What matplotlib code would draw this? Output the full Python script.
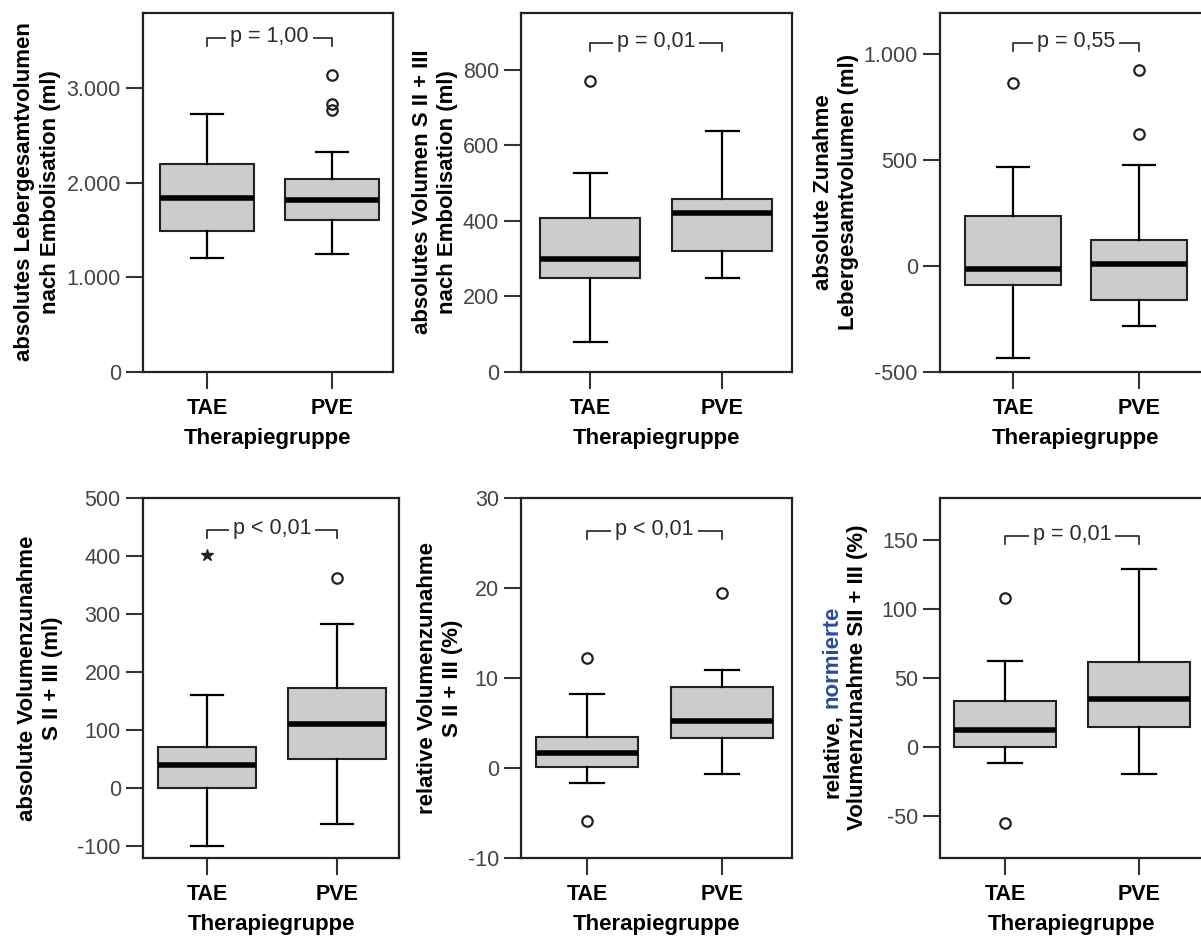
import numpy as np
import matplotlib
matplotlib.use("Agg")
import matplotlib.pyplot as plt
from matplotlib.ticker import FuncFormatter

plt.rcParams['font.family'] = ['Liberation Sans', 'DejaVu Sans']
plt.rcParams['font.size'] = 15

# Gruppen
gruppen = ["TAE", "PVE"]

# 1) absolutes Lebergesamtvolumen nach Embolisation (ml)
p1_q1 = [1492, 1605]
p1_med = [1840, 1816]
p1_q3 = [2192, 2035]
p1_lo = [1200, 1246]
p1_hi = [2720, 2326]
p1_fl = [[], [3136, 2830, 2770]]

# 2) absolutes Volumen S II + III nach Embolisation (ml)
p2_q1 = [249, 320]
p2_med = [299, 421]
p2_q3 = [408, 459]
p2_lo = [79, 250]
p2_hi = [527, 639]
p2_fl = [[771], []]

# 3) absolute Zunahme Lebergesamtvolumen (ml)
p3_q1 = [-91, -162]
p3_med = [-12, 8]
p3_q3 = [236, 125]
p3_lo = [-434, -283]
p3_hi = [467, 477]
p3_fl = [[865], [927, 625]]

# 4) absolute Volumenzunahme S II + III (ml)
p4_q1 = [0, 51]
p4_med = [40, 111]
p4_q3 = [71, 172]
p4_lo = [-100, -61]
p4_hi = [161, 283]
p4_fl = [[], [363]]
p4_extrem = [402]  # * Extremwert TAE

# 5) relative Volumenzunahme S II + III (%)
p5_q1 = [0.1, 3.3]
p5_med = [1.7, 5.2]
p5_q3 = [3.4, 9.0]
p5_lo = [-1.7, -0.7]
p5_hi = [8.2, 10.9]
p5_fl = [[12.2, -5.9], [19.4]]

# 6) relative, normierte Volumenzunahme SII + III (%)
p6_q1 = [0, 14.5]
p6_med = [12.6, 35]
p6_q3 = [33.7, 61.7]
p6_lo = [-11.3, -19.2]
p6_hi = [62, 128.4]
p6_fl = [[107.7, -55], []]

p_texte = ["p = 1,00", "p = 0,01", "p = 0,55", "p < 0,01", "p < 0,01", "p = 0,01"]

ylabels = ["absolutes Lebergesamtvolumen\nnach Embolisation (ml)",
           "absolutes Volumen S II + III\nnach Embolisation (ml)",
           "absolute Zunahme\nLebergesamtvolumen (ml)",
           "absolute Volumenzunahme\nS II + III (ml)",
           "relative Volumenzunahme\nS II + III (%)",
           None]

yticks = [[0, 1000, 2000, 3000], [0, 200, 400, 600, 800], [-500, 0, 500, 1000],
          [-100, 0, 100, 200, 300, 400, 500], [-10, 0, 10, 20, 30], [-50, 0, 50, 100, 150]]
ylims = [(0, 3790), (0, 950), (-500, 1195), (-120, 500), (-10, 30), (-80, 180)]

# Layout in Pixeln (links, rechts, oben, unten)
W, H = 1201, 938
boxes_px = [(143, 393, 13, 372), (521, 792, 13, 372), (940, 1212, 13, 372),
            (143, 399, 498, 858), (521, 792, 498, 858), (940, 1204, 498, 858)]
xlims = [(0.488, 2.488), (0.477, 2.53), (0.42, 2.58),
         (0.508, 2.477), (0.511, 2.519), (0.515, 2.485)]
bracket_y = [0.930, 0.917, 0.916, 0.912, 0.908, 0.894]
ylabel_pos = [(37.5, 192), (435, 192), (836, 192), (40, 678), (440, 678), None]

daten = [(p1_q1, p1_med, p1_q3, p1_lo, p1_hi, p1_fl),
         (p2_q1, p2_med, p2_q3, p2_lo, p2_hi, p2_fl),
         (p3_q1, p3_med, p3_q3, p3_lo, p3_hi, p3_fl),
         (p4_q1, p4_med, p4_q3, p4_lo, p4_hi, p4_fl),
         (p5_q1, p5_med, p5_q3, p5_lo, p5_hi, p5_fl),
         (p6_q1, p6_med, p6_q3, p6_lo, p6_hi, p6_fl)]

fig = plt.figure(figsize=(W / 100, H / 100), dpi=100)

def de_fmt(v, pos):
    return f"{v:,.0f}".replace(",", ".")

for i in range(6):
    l, r, t, b = boxes_px[i]
    ax = fig.add_axes([l / W, 1 - b / H, (r - l) / W, (b - t) / H])
    q1, med, q3, lo, hi, fl = daten[i]
    stats = [dict(med=med[k], q1=q1[k], q3=q3[k], whislo=lo[k], whishi=hi[k], fliers=fl[k])
             for k in range(2)]
    ax.bxp(stats, positions=[1, 2], widths=0.76, capwidths=0.25, patch_artist=True,
           boxprops=dict(facecolor="#cccccc", edgecolor="#222222", linewidth=1.5),
           medianprops=dict(color="black", linewidth=4, solid_capstyle="butt"),
           whiskerprops=dict(color="black", linewidth=1.6),
           capprops=dict(color="black", linewidth=1.6),
           flierprops=dict(marker="o", markerfacecolor="none", markeredgecolor="#222222",
                           markersize=7.5, markeredgewidth=1.6))
    if i == 3:
        ax.plot([1] * len(p4_extrem), p4_extrem, linestyle="none", marker="*",
                color="#222222", markersize=9)

    ax.set_xlim(*xlims[i])
    ax.set_ylim(*ylims[i])
    ax.set_yticks(yticks[i])
    ax.yaxis.set_major_formatter(FuncFormatter(de_fmt))
    ax.set_xticks([1, 2])
    ax.set_xticklabels(gruppen, fontweight="bold", fontsize=15.5, color="black")
    ax.tick_params(axis="both", length=12, width=1.5, color="#333333", direction="out")
    ax.tick_params(axis="y", labelcolor="#444444", labelsize=15.5, pad=4)
    ax.tick_params(axis="x", pad=7)
    ax.set_xlabel("Therapiegruppe", fontweight="bold", fontsize=16, labelpad=6)
    for sp in ax.spines.values():
        sp.set_linewidth(1.6)
        sp.set_color("#222222")

    # p-Wert Klammer
    tr = ax.get_xaxis_transform()
    yb = bracket_y[i]
    ax.plot([1, 1, 2, 2], [yb - 0.022, yb, yb, yb - 0.022], transform=tr,
            color="#222222", linewidth=1.2, clip_on=False, zorder=3)
    ax.text(1.5, yb + 0.004, p_texte[i], transform=tr, ha="center", va="center",
            fontsize=15.5, color="#2b2b2b", zorder=4,
            bbox=dict(facecolor="white", edgecolor="none", pad=3))

    if ylabels[i] is not None:
        x, y = ylabel_pos[i]
        fig.text(x / W, 1 - y / H, ylabels[i], rotation=90, ha="center", va="center",
                 multialignment="center", fontweight="bold", fontsize=16, linespacing=1.3)

# Panel 6: Beschriftung mit farbigem Wort
t1 = fig.text(832 / W, 1 - 798 / H, "relative,", rotation=90, ha="center", va="bottom",
              fontweight="bold", fontsize=16)
fig.canvas.draw()
bb = t1.get_window_extent(fig.canvas.get_renderer())
fig.text(832 / W, (bb.y1 + 6) / H, "normierte", rotation=90, ha="center", va="bottom",
         fontweight="bold", fontsize=16, color="#2a4b9b")
fig.text(857 / W, 1 - 677.5 / H, "Volumenzunahme SII + III (%)", rotation=90,
         ha="center", va="center", fontweight="bold", fontsize=16)

fig.savefig("out.png", dpi=100, facecolor="white")
